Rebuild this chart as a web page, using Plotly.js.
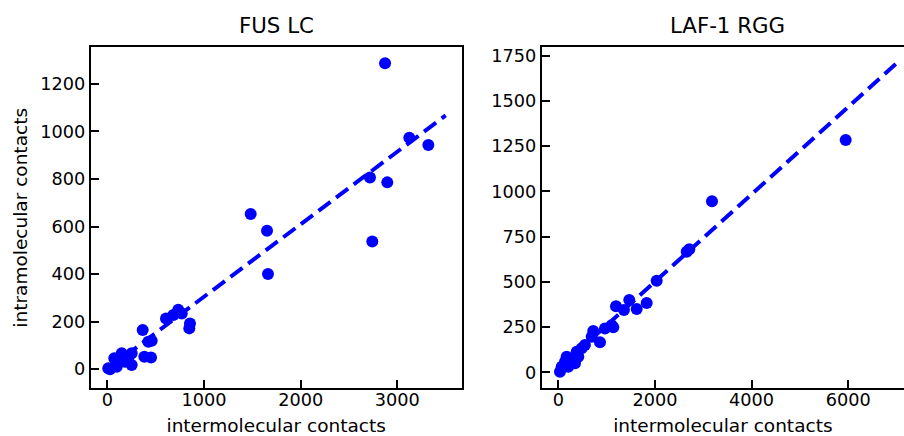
<!DOCTYPE html>
<html>
<head>
<meta charset="utf-8">
<script src="https://cdn.plot.ly/plotly-3.0.1.min.js"></script>
<style>
  html, body { margin: 0; padding: 0; background: #fff; overflow: hidden; }
  #chart { width: 904px; height: 436px; }
</style>
</head>
<body>
<div id="chart"></div>
<script>
// ---- data ----
const leftTitle = "FUS LC";
const rightTitle = "LAF-1 RGG";
const xLabel = "intermolecular contacts";
const yLabel = "intramolecular contacts";

const fusX = [10, 28, 97, 72, 131, 149, 183, 217, 252, 252, 366, 424, 459, 383, 452,
              607, 683, 734, 770, 855, 848, 1483, 1652, 1662, 2717, 2873, 2741, 2896, 3124, 3321];
const fusY = [4, 0, 11, 46, 32, 67, 32, 46, 67, 18, 165, 116, 120, 53, 50,
              214, 228, 250, 235, 193, 172, 653, 583, 401, 806, 1287, 537, 786, 974, 943];

const lafX = [35, 70, 139, 174, 207, 277, 346, 381, 414, 484, 552, 691, 724, 863,
              966, 1105, 1138, 1194, 1359, 1469, 1622, 1829, 2036, 2657, 2711, 3180, 5947];
const lafY = [3, 31, 59, 86, 31, 77, 50, 114, 86, 133, 151, 197, 228, 167,
              243, 261, 249, 365, 344, 400, 350, 383, 506, 667, 680, 945, 1284];

// fitted lines (slope / intercept) and their x extent
const fusFitX = [0, 3500];
const fusFitSlope = 0.305, fusFitIntercept = 0;
const lafFitX = [0, 7000];
const lafFitSlope = 0.2415, lafFitIntercept = 18;

const fusXTicks = [0, 1000, 2000, 3000];
const fusYTicks = [0, 200, 400, 600, 800, 1000, 1200];
const lafXTicks = [0, 2000, 4000, 6000];
const lafYTicks = [0, 250, 500, 750, 1000, 1250, 1500, 1750];

// ---- styling ----
const BLUE = '#0000ff';
const FONT = 'DejaVu Sans, sans-serif';
const W = 904, H = 436;

const fitLine = (xs, m, b) => xs.map(x => m * x + b);

const traces = [
  { x: fusX, y: fusY, type: 'scatter', mode: 'markers', xaxis: 'x', yaxis: 'y',
    marker: { color: BLUE, size: 12, line: { width: 0 } }, showlegend: false, hoverinfo: 'skip' },
  { x: fusFitX, y: fitLine(fusFitX, fusFitSlope, fusFitIntercept), type: 'scatter', mode: 'lines',
    xaxis: 'x', yaxis: 'y', line: { color: BLUE, width: 4, dash: '15px,7px' }, showlegend: false },
  { x: lafX, y: lafY, type: 'scatter', mode: 'markers', xaxis: 'x2', yaxis: 'y2',
    marker: { color: BLUE, size: 12, line: { width: 0 } }, showlegend: false, hoverinfo: 'skip' },
  { x: lafFitX, y: fitLine(lafFitX, lafFitSlope, lafFitIntercept), type: 'scatter', mode: 'lines',
    xaxis: 'x2', yaxis: 'y2', line: { color: BLUE, width: 4, dash: '15px,7px' }, showlegend: false }
];

const axisBase = {
  showline: true, linecolor: '#000', linewidth: 2,
  ticks: 'inside', ticklen: 8, tickwidth: 2, tickcolor: '#000',
  showgrid: false, zeroline: false,
  tickfont: { family: FONT, size: 17.7, color: '#000' },
  tickformat: 'd', automargin: false
};

const yDom = [1 - 388.3 / H, 1 - 47.3 / H];
const xTitle = { text: xLabel, font: { family: FONT, size: 18.5, color: '#000' }, standoff: 17 };

const layout = {
  width: W, height: H,
  margin: { l: 0, r: 0, t: 0, b: 0 },
  paper_bgcolor: '#fff', plot_bgcolor: '#fff',
  font: { family: FONT, color: '#000' },
  xaxis: Object.assign({}, axisBase, {
    domain: [90.7 / W, 461.7 / W], range: [-172, 3666], mirror: true,
    tickvals: fusXTicks, anchor: 'y', ticklabelstandoff: -6,
    title: xTitle
  }),
  yaxis: Object.assign({}, axisBase, {
    domain: yDom, range: [-80, 1354], mirror: true,
    tickvals: fusYTicks, anchor: 'x',
    title: { text: yLabel, font: { family: FONT, size: 18.5, color: '#000' }, standoff: 8 }
  }),
  xaxis2: Object.assign({}, axisBase, {
    domain: [541.7 / W, 1], range: [-343, 7153], mirror: true,
    tickvals: lafXTicks, anchor: 'y2', ticklabelstandoff: -6,
    title: xTitle
  }),
  yaxis2: Object.assign({}, axisBase, {
    domain: yDom, range: [-88, 1796], mirror: false,
    tickvals: lafYTicks, anchor: 'x2'
  }),
  annotations: [
    { text: leftTitle, xref: 'paper', yref: 'paper', x: 276.2 / W, y: 1 - 25 / H,
      xanchor: 'center', yanchor: 'middle', showarrow: false,
      font: { family: FONT, size: 21.3, color: '#000' } },
    { text: rightTitle, xref: 'paper', yref: 'paper', x: 727 / W, y: 1 - 25 / H,
      xanchor: 'center', yanchor: 'middle', showarrow: false,
      font: { family: FONT, size: 21.3, color: '#000' } }
  ]
};

Plotly.newPlot('chart', traces, layout, { staticPlot: true, displayModeBar: false });
</script>
</body>
</html>
